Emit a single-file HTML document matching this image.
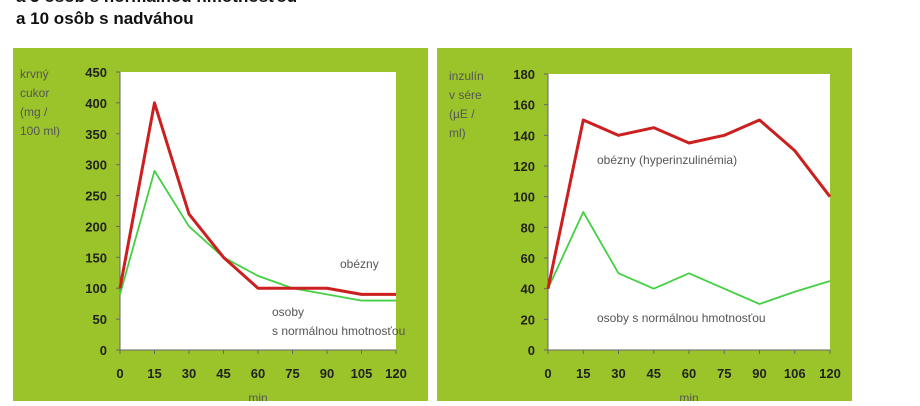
<!DOCTYPE html>
<html><head><meta charset="utf-8"><style>
body{margin:0;width:920px;height:401px;overflow:hidden;background:#fff;font-family:"Liberation Sans",sans-serif}
</style></head><body>
<svg width="920" height="401" xmlns="http://www.w3.org/2000/svg" id="svg" font-family="Liberation Sans, sans-serif">
<text x="16" y="2" font-size="17" font-weight="bold" fill="#111">a 5 osôb s normálnou hmotnosťou</text>
<text x="16" y="24" font-size="17" font-weight="bold" fill="#111">a 10 osôb s nadváhou</text>
<rect x="13" y="48" width="415" height="353" fill="#9bc42a"/>
<rect x="437" y="48" width="415" height="353" fill="#9bc42a"/>
<g id="left"></g>
<g id="right"></g>
</svg>
<script>
const xCats=[0,15,30,45,60,75,90,105,120];
const leftXLabels=["0","15","30","45","60","75","90","105","120"];
const rightXLabels=["0","15","30","45","60","75","90","106","120"];
const leftYTicks=[0,50,100,150,200,250,300,350,400,450];
const rightYTicks=[0,20,40,60,80,100,120,140,160,180];
const gluObese=[100,400,220,150,100,100,100,90,90];
const gluNormal=[90,290,200,150,120,100,90,80,80];
const insObese=[40,150,140,145,135,140,150,130,100];
const insNormal=[40,90,50,40,50,40,30,38,45];
const NS="http://www.w3.org/2000/svg";
function mk(p,t,a,txt){const e=document.createElementNS(NS,t);for(const k in a)e.setAttribute(k,a[k]);if(txt!=null)e.textContent=txt;p.appendChild(e);return e;}
function chart(g,o){
  const sx=v=>o.x0+(v-xCats[0])/(xCats[xCats.length-1]-xCats[0])*(o.x1-o.x0);
  const ymax=o.yt[o.yt.length-1];
  const sy=v=>o.y0-(v/ymax)*(o.y0-o.y1);
  const pa=mk(g,'rect',{x:o.x0,y:o.y1,width:o.x1-o.x0,height:o.y0-o.y1,fill:'#fff'});
  
  
  mk(g,'line',{x1:o.x0,y1:o.y1,x2:o.x0,y2:o.y0,stroke:'#666','stroke-width':1});
  mk(g,'line',{x1:o.x0,y1:o.y0,x2:o.x1,y2:o.y0,stroke:'#666','stroke-width':1});
  o.yt.forEach(v=>{
    mk(g,'line',{x1:o.x0-4,y1:sy(v),x2:o.x0,y2:sy(v),stroke:'#666'});
    const t=mk(g,'text',{x:o.x0-13,y:sy(v)+5,'text-anchor':'end','font-size':13,'font-weight':'bold',fill:'#222'},String(v));
    
    
  });
  xCats.forEach((v,i)=>{
    mk(g,'line',{x1:sx(v),y1:o.y0,x2:sx(v),y2:o.y0+4,stroke:'#666'});
    const t=mk(g,'text',{x:sx(v),y:o.y0+28,'text-anchor':'middle','font-size':13,'font-weight':'bold',fill:'#222'},o.xl[i]);
    
    
  });
  const xt=mk(g,'text',{x:(o.x0+o.x1)/2,y:o.y0+52,'text-anchor':'middle','font-size':12,fill:'#555'},'min');
  
  
  o.ylab.forEach((s,i)=>{
    const t=mk(g,'text',{x:o.lx,y:o.y1+6+i*19,'font-size':12,fill:'#555'},s);
    
    
  });
  [[o.n,'#44d044',1.8,'series-normal'],[o.ob,'#cc1f1f',3,'series-obese']].forEach(([d,c,w,n])=>{
    const l=mk(g,'polyline',{points:d.map((v,i)=>sx(xCats[i])+','+sy(v)).join(' '),fill:'none',stroke:c,'stroke-width':w,'stroke-linejoin':'round'});
    
    
  });
  o.notes.forEach(([x,y,s])=>{
    const t=mk(g,'text',{x:x,y:y,'font-size':12,fill:'#555'},s);
    
    
  });
}
chart(document.getElementById('left'),{x0:120,x1:396,y0:350,y1:72,yt:leftYTicks,xl:leftXLabels,n:gluNormal,ob:gluObese,lx:20,
  ylab:['krvný','cukor','(mg /','100 ml)'],notes:[[340,268,'obézny'],[272,316,'osoby'],[272,335,'s normálnou hmotnosťou']]});
chart(document.getElementById('right'),{x0:548,x1:830,y0:350,y1:74,yt:rightYTicks,xl:rightXLabels,n:insNormal,ob:insObese,lx:449,
  ylab:['inzulín','v sére','(µE /','ml)'],notes:[[597,164,'obézny   (hyperinzulinémia)'],[597,322,'osoby s normálnou hmotnosťou']]});
</script>
</body></html>
